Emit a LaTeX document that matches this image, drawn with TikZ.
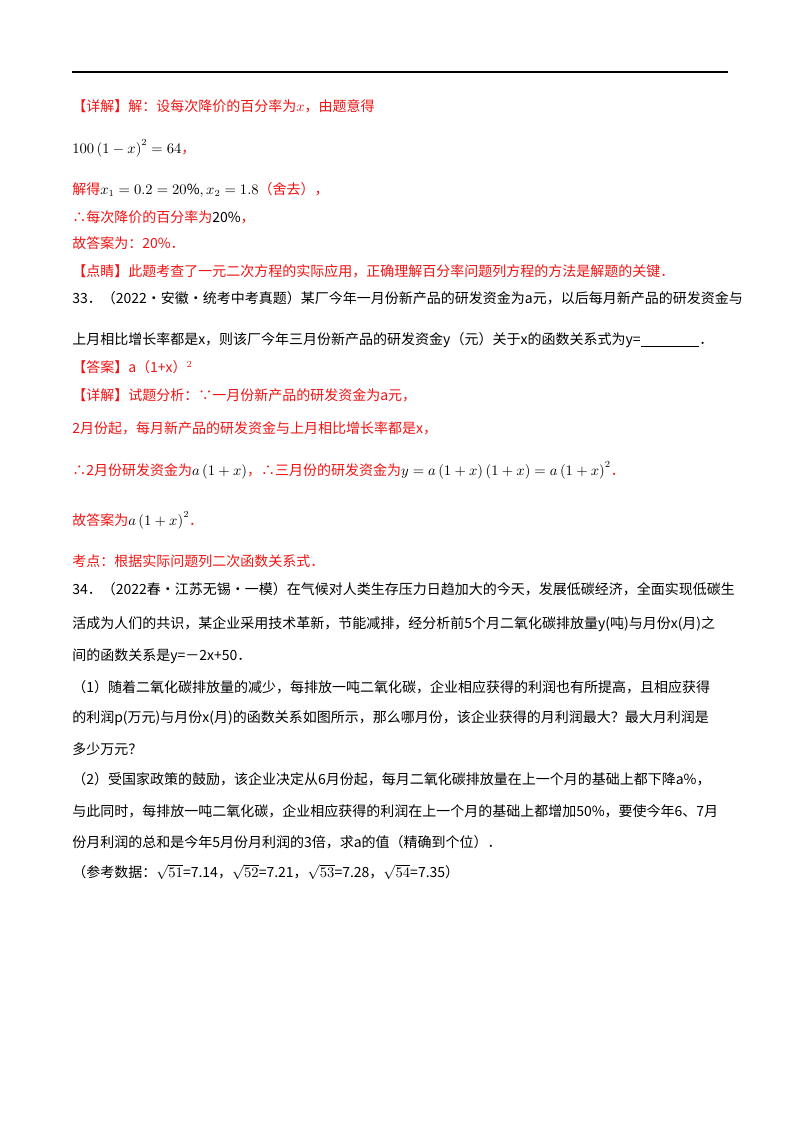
\documentclass[tikz,border=0pt]{standalone}
\usepackage{fontspec}
\setmainfont{Noto Sans CJK SC}
\definecolor{rd}{RGB}{240,20,20}
\begin{document}
\begin{tikzpicture}[x=0.75pt,y=-0.75pt,
  t/.style={anchor=west,inner sep=0pt,font=\fontsize{10.5pt}{12pt}\selectfont},
  r/.style={t,text=rd}]
\useasboundingbox (0,0) rectangle (800,1132);
\fill[white] (0,0) rectangle (800,1132);
\draw[line width=1.2pt] (72,72) -- (728,72);
\node[r] (l1) at (72,106) {【详解】解：设每次降价的百分率为$x$，由题意得};
\node[t] (l2) at (72,148) {$100\left(1-x\right)^2=64$\textcolor{rd}{，}};
\node[r] (l3) at (72,190) {解得\textcolor{black}{$x_1=0.2=20\%,x_2=1.8$}（舍去），};
\node[r] (l4) at (72,217) {∴每次降价的百分率为\textcolor{black}{20\%}，};
\node[r] (l5) at (72,243) {故答案为：20\%．};
\node[r] (l6) at (72,271) {【点睛】此题考查了一元二次方程的实际应用，正确理解百分率问题列方程的方法是解题的关键．};
\node[t] (l7) at (72,298) {33．（2022·安徽·统考中考真题）某厂今年一月份新产品的研发资金为a元，以后每月新产品的研发资金与};
\node[t] (l8) at (72,340) {上月相比增长率都是x，则该厂今年三月份新产品的研发资金y（元）关于x的函数关系式为y=\underline{\hspace{4.2em}}．};
\node[r] (l9) at (72,367) {【答案】a（1+x）$^{2}$};
\node[r] (l10) at (72,395) {【详解】试题分析：∵一月份新产品的研发资金为a元，};
\node[r] (l11) at (72,428) {2月份起，每月新产品的研发资金与上月相比增长率都是x，};
\node[r] (l12) at (72,470) {∴2月份研发资金为\textcolor{black}{$a\left(1+x\right)$}，∴三月份的研发资金为\textcolor{black}{$y=a\left(1+x\right)\left(1+x\right)=a\left(1+x\right)^2$}．};
\node[r] (l13) at (72,520) {故答案为\textcolor{black}{$a\left(1+x\right)^2$}．};
\node[r] (l14) at (72,561) {考点：根据实际问题列二次函数关系式．};
\node[t] (l15) at (72,589) {34．（2022春·江苏无锡·一模）在气候对人类生存压力日趋加大的今天，发展低碳经济，全面实现低碳生};
\node[t] (l16) at (72,624) {活成为人们的共识，某企业采用技术革新，节能减排，经分析前5个月二氧化碳排放量y(吨)与月份x(月)之};
\node[t] (l17) at (72,656) {间的函数关系是y=－2x+50．};
\node[t] (l18) at (72,687) {（1）随着二氧化碳排放量的减少，每排放一吨二氧化碳，企业相应获得的利润也有所提高，且相应获得};
\node[t] (l19) at (72,718) {的利润p(万元)与月份x(月)的函数关系如图所示，那么哪月份，该企业获得的月利润最大？最大月利润是};
\node[t] (l20) at (72,749) {多少万元？};
\node[t] (l21) at (72,779) {（2）受国家政策的鼓励，该企业决定从6月份起，每月二氧化碳排放量在上一个月的基础上都下降a\%，};
\node[t] (l22) at (72,811) {与此同时，每排放一吨二氧化碳，企业相应获得的利润在上一个月的基础上都增加50\%，要使今年6、7月};
\node[t] (l23) at (72,842) {份月利润的总和是今年5月份月利润的3倍，求a的值（精确到个位）．};
\node[t] (l24) at (72,872) {（参考数据：$\sqrt{51}$=7.14，$\sqrt{52}$=7.21，$\sqrt{53}$=7.28，$\sqrt{54}$=7.35）};
\end{tikzpicture}
\end{document}
